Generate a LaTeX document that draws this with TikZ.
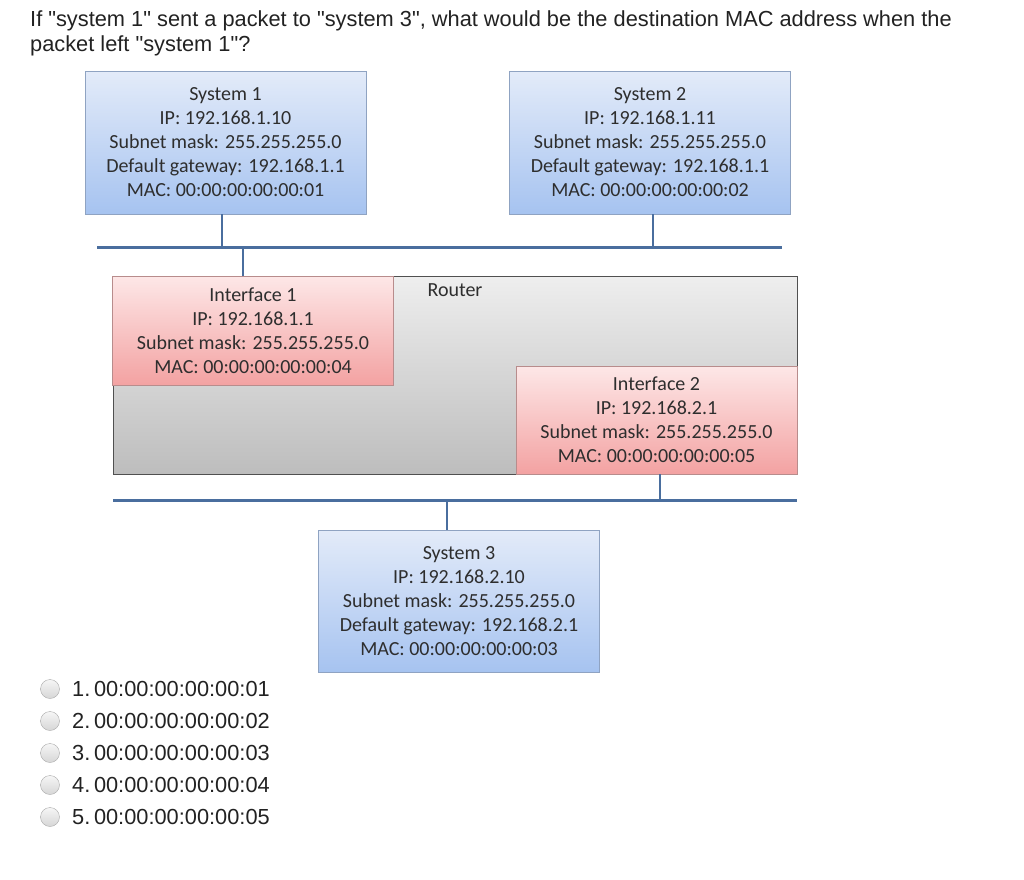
\documentclass[tikz,border=0pt]{standalone}
\usepackage{fontspec}
\setmainfont{Liberation Sans}
\newfontfamily\calibrifont{Carlito}
\usetikzlibrary{positioning, calc}
\definecolor{HostTop}{HTML}{E3EBF9}
\definecolor{HostBottom}{HTML}{A6C3F0}
\definecolor{HostEdge}{HTML}{8FA3C2}
\definecolor{IfaceTop}{HTML}{FDE7E7}
\definecolor{IfaceBottom}{HTML}{F3A2A2}
\definecolor{IfaceEdge}{HTML}{B88C8C}
\definecolor{RouterTop}{HTML}{EEEEEE}
\definecolor{RouterBottom}{HTML}{BDBDBD}
\definecolor{RouterEdge}{HTML}{505050}
\definecolor{BusBlue}{HTML}{4A6E9E}
\definecolor{BoxText}{HTML}{2E2E2E}
\definecolor{RadioEdge}{HTML}{A8A8A8}
\definecolor{RadioTop}{HTML}{F6F6F6}
\definecolor{RadioBottom}{HTML}{D6D6D6}
\definecolor{QuizText}{HTML}{222222}
\tikzset{
    % Boxes
    hostbox/.style={
        rectangle,
        draw=HostEdge,
        top color=HostTop,
        bottom color=HostBottom,
        minimum width=281pt,
        minimum height=143pt,
        inner sep=0pt,
        align=center,
        text=BoxText,
        font=\calibrifont\fontsize{20}{24}\selectfont
    },
    ifacebox/.style={
        rectangle,
        draw=IfaceEdge,
        top color=IfaceTop,
        bottom color=IfaceBottom,
        minimum width=281pt,
        minimum height=109pt,
        inner sep=0pt,
        align=center,
        text=BoxText,
        font=\calibrifont\fontsize{20}{24}\selectfont
    },
    routerbox/.style={
        rectangle,
        draw=RouterEdge,
        top color=RouterTop,
        bottom color=RouterBottom,
        minimum width=684pt,
        minimum height=198pt,
        inner sep=0pt
    },
    boxlabel/.style={
        inner sep=0pt,
        text=BoxText,
        font=\calibrifont\fontsize{20}{24}\selectfont
    },
    % Network lines
    bus/.style={
        draw=BusBlue,
        line width=3pt
    },
    link/.style={
        draw=BusBlue,
        line width=2.6pt
    },
    % Quiz
    quiz/.style={
        inner sep=0pt,
        text=QuizText,
        font=\fontsize{21.8}{25}\selectfont
    },
    radio/.style={
        circle,
        draw=RadioEdge,
        top color=RadioTop,
        bottom color=RadioBottom,
        minimum size=19pt,
        inner sep=0pt
    }
}
\begin{document}
\begin{tikzpicture}[x=1pt, y=-1pt]
    \useasboundingbox (0,0) rectangle (1024,879);

    % Question
    \node[quiz, anchor=base west] (q1) at (30,26) {If \textquotedbl system 1\textquotedbl\ sent a packet to \textquotedbl system 3\textquotedbl, what would be the destination MAC address when the};
    \node[quiz, anchor=base west] (q2) at (30,51) {packet left \textquotedbl system 1\textquotedbl?};

    % Hosts
    \node[hostbox] (sys1) at (225.5,142.5) {System 1\\IP: 192.168.1.10\\Subnet mask: 255.255.255.0\\Default gateway: 192.168.1.1\\MAC: 00:00:00:00:00:01};
    \node[hostbox] (sys2) at (650,142.5) {System 2\\IP: 192.168.1.11\\Subnet mask: 255.255.255.0\\Default gateway: 192.168.1.1\\MAC: 00:00:00:00:00:02};

    % Router with its interfaces
    \node[routerbox] (router) at (455,375) {};
    \node[boxlabel] (routerlabel) at (455,290) {Router};
    \node[ifacebox] (if1) at (253,330.5) {Interface 1\\IP: 192.168.1.1\\Subnet mask: 255.255.255.0\\MAC: 00:00:00:00:00:04};
    \node[ifacebox, minimum height=108pt] (if2) at (656.5,420) {Interface 2\\IP: 192.168.2.1\\Subnet mask: 255.255.255.0\\MAC: 00:00:00:00:00:05};

    \node[hostbox, minimum height=142pt] (sys3) at (459,601) {System 3\\IP: 192.168.2.10\\Subnet mask: 255.255.255.0\\Default gateway: 192.168.2.1\\MAC: 00:00:00:00:00:03};

    % Buses
    \coordinate (bus1w) at (97,247);
    \coordinate (bus1e) at (782,247);
    \coordinate (bus2w) at (113,500);
    \coordinate (bus2e) at (797,500);
    \draw[bus] (bus1w) -- (bus1e);
    \draw[bus] (bus2w) -- (bus2e);

    % Taps
    \coordinate (tap1) at (222,247);
    \coordinate (tap2) at (653,247);
    \coordinate (tap3) at (243,247);
    \coordinate (tap4) at (660,500);
    \coordinate (tap5) at (447,500);
    \draw[link] (sys1.south -| tap1) -- (tap1);
    \draw[link] (sys2.south -| tap2) -- (tap2);
    \draw[link] (tap3) -- (if1.north -| tap3);
    \draw[link] (if2.south -| tap4) -- (tap4);
    \draw[link] (tap5) -- (sys3.north -| tap5);

    % Answers
    \foreach \i/\y in {1/689, 2/721, 3/753, 4/785, 5/817}{
        \node[radio] (radio\i) at (50,\y) {};
        \node[quiz, anchor=west] (answer\i) at (72,\y) {\i.\,00:00:00:00:00:0\i};
    }
\end{tikzpicture}
\end{document}
